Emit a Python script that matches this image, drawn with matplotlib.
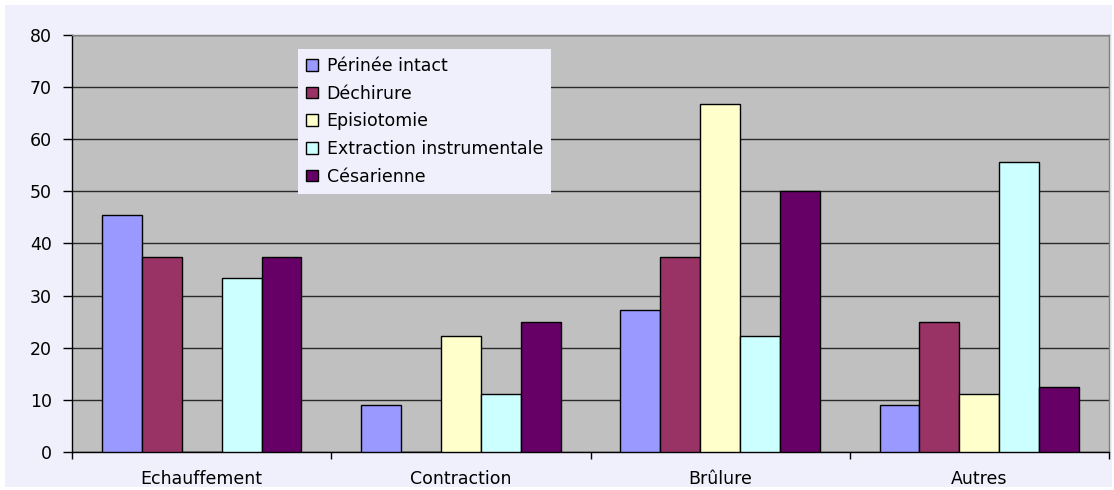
import matplotlib
matplotlib.use("Agg")
import matplotlib.pyplot as plt
import numpy as np
from matplotlib.patches import Rectangle

categories = ["Echauffement", "Contraction", "Brûlure", "Autres"]
series_names = ["Périnée intact", "Déchirure", "Episiotomie",
                "Extraction instrumentale", "Césarienne"]
perinee = [45.5, 9.1, 27.3, 9.1]
dechirure = [37.5, 0, 37.5, 25.0]
episiotomie = [0, 22.2, 66.7, 11.1]
extraction = [33.3, 11.1, 22.2, 55.6]
cesarienne = [37.5, 25.0, 50.0, 12.5]
series = [perinee, dechirure, episiotomie, extraction, cesarienne]
colors = ["#9999ff", "#993366", "#ffffcc", "#ccffff", "#660066"]
y_ticks = [0, 10, 20, 30, 40, 50, 60, 70, 80]

plt.rcParams['font.family'] = ['DejaVu Sans']
FS = 12.5
lav = "#f0f0fc"

fig = plt.figure(figsize=(11.14, 4.90), dpi=100)
fig.patch.set_facecolor("white")
fig.patches.append(Rectangle((5/1114, 3/490), (1112-5)/1114, (485-3)/490,
                             transform=fig.transFigure, facecolor=lav,
                             edgecolor="none", zorder=-10))

ax = fig.add_axes([72/1114, 1-452/490, (1109-72)/1114, (452-35)/490])
ax.set_facecolor("#c0c0c0")

x = np.arange(len(categories))
bw = 0.154
for i, (vals, c, name) in enumerate(zip(series, colors, series_names)):
    ax.bar(x + (i - 2) * bw, vals, width=bw, color=c, edgecolor="black",
           linewidth=1.0, label=name, zorder=3)

ax.set_xlim(-0.5, len(categories) - 0.5)
ax.set_ylim(0, 80)
ax.set_yticks(y_ticks)
ax.set_yticklabels([str(t) for t in y_ticks], fontsize=FS)
ax.yaxis.grid(True, color="#2a2a2a", linewidth=1.0, zorder=1)
ax.set_axisbelow(True)

ax.set_xticks(x)
ax.set_xticklabels(categories, fontsize=FS)
ax.tick_params(axis="x", length=0, pad=13)
ax.set_xticks(np.arange(-0.5, len(categories)), minor=True)
ax.tick_params(axis="x", which="minor", length=5, width=1, color="black", direction="out")
ax.tick_params(axis="y", length=6.5, width=1, direction="out", pad=8)

for s in ["left", "bottom"]:
    ax.spines[s].set_color("black")
    ax.spines[s].set_linewidth(1.0)
for s in ["top", "right"]:
    ax.spines[s].set_color("#808080")
    ax.spines[s].set_linewidth(1.0)

leg = ax.legend(loc="upper left", bbox_to_anchor=(298/1114, 1-49/490),
                bbox_transform=fig.transFigure, borderaxespad=0,
                fontsize=FS, frameon=True, fancybox=False, framealpha=1,
                facecolor=lav, edgecolor="none", handlelength=0.7,
                handleheight=0.65, handletextpad=0.5, labelspacing=0.56,
                borderpad=0.45)
leg.set_zorder(5)

fig.savefig("out.png", dpi=100)
